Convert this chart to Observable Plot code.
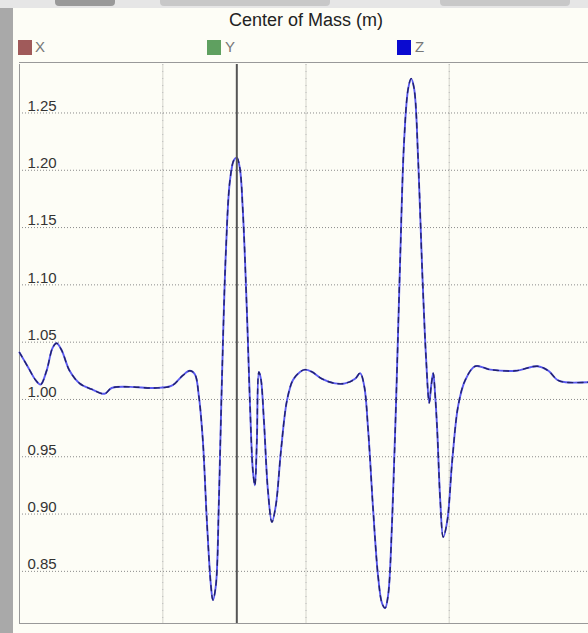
<!DOCTYPE html>
<html>
<head>
<meta charset="utf-8">
<script src="https://cdn.jsdelivr.net/npm/d3@7"></script>
<script src="https://cdn.jsdelivr.net/npm/@observablehq/plot@0.6"></script>
<style>
  html, body { margin: 0; padding: 0; width: 588px; height: 633px; overflow: hidden; background: #fdfdf6; font-family: "Liberation Sans", Arial, sans-serif; position: relative; }
  .abs { position: absolute; }
  #leftbar { left: 0; top: 0; width: 13px; height: 633px; background: #a9a9a9; }
  #toolbar { left: 0; top: 0; width: 588px; height: 8px; background: #e6e6e6; }
  .btn { top: 0; height: 6px; background: #c8c8c8; border-radius: 0 0 4px 4px; }
  #title { left: 0; width: 612px; top: 10px; text-align: center; font-size: 18px; color: #222; }
  .sw { top: 40px; width: 14px; height: 15px; }
  .lab { top: 38px; font-size: 15px; color: #777; }
  #topline { left: 19px; top: 62px; width: 569px; height: 0; border-top: 1px solid #999; }
  #chart { left: 0; top: 63px; }
</style>
</head>
<body>
<div class="abs" id="leftbar"></div>
<div class="abs" id="toolbar"></div>
<div class="abs btn" style="left:55px;width:60px;background:#999"></div>
<div class="abs btn" style="left:160px;width:170px"></div>
<div class="abs btn" style="left:440px;width:130px"></div>
<div class="abs" id="title">Center of Mass (m)</div>
<div class="abs sw" style="left:18px;background:#a05a5a"></div>
<div class="abs lab" style="left:35px">X</div>
<div class="abs sw" style="left:207px;background:#5fa060"></div>
<div class="abs lab" style="left:225px">Y</div>
<div class="abs sw" style="left:397px;background:#0a0ad0"></div>
<div class="abs lab" style="left:415px">Z</div>
<div class="abs" id="topline"></div>
<div class="abs" id="chart"></div>
<script>
// time (s) and Z centre of mass (m)
const time = [0.000,0.056,0.112,0.147,0.189,0.231,0.259,0.294,0.350,0.420,0.503,0.594,0.643,0.769,0.944,1.063,1.140,1.189,1.224,1.252,1.280,1.308,1.336,1.350,1.371,1.392,1.413,1.441,1.469,1.497,1.517,1.538,1.559,1.587,1.608,1.629,1.643,1.657,1.671,1.685,1.706,1.734,1.762,1.790,1.825,1.867,1.909,1.958,1.993,2.042,2.112,2.203,2.273,2.343,2.378,2.406,2.434,2.469,2.503,2.531,2.552,2.573,2.601,2.629,2.657,2.685,2.713,2.734,2.755,2.783,2.811,2.839,2.860,2.874,2.888,2.902,2.916,2.937,2.958,2.986,3.021,3.063,3.112,3.182,3.287,3.462,3.615,3.692,3.755,3.811,3.972];
const zValues = [1.041,1.029,1.017,1.013,1.025,1.045,1.049,1.043,1.025,1.014,1.009,1.005,1.010,1.011,1.010,1.012,1.021,1.025,1.022,1.003,0.964,0.894,0.838,0.825,0.838,0.912,1.017,1.130,1.191,1.209,1.211,1.202,1.165,1.078,0.999,0.938,0.925,0.964,1.024,1.018,0.982,0.921,0.893,0.908,0.955,0.999,1.017,1.024,1.026,1.024,1.018,1.014,1.014,1.018,1.023,1.012,0.973,0.903,0.846,0.822,0.818,0.829,0.894,0.999,1.121,1.226,1.271,1.280,1.271,1.209,1.113,1.034,0.997,1.012,1.023,1.003,0.973,0.912,0.880,0.894,0.947,0.995,1.017,1.029,1.026,1.025,1.029,1.025,1.017,1.015,1.015];
const yTicks = [0.85,0.90,0.95,1.00,1.05,1.10,1.15,1.20,1.25];
const xGrid = [1,2,3];
const cursorTime = [1.517];

const data = time.map((t, i) => ({t, z: zValues[i]}));

const chart = Plot.plot({
  width: 588,
  height: 570,
  marginLeft: 19,
  marginRight: 0,
  marginTop: 1,
  marginBottom: 10,
  style: {background: "transparent", overflow: "visible"},
  x: {domain: [0, 3.972], axis: null},
  y: {domain: [0.8045, 1.2923], axis: null},
  marks: [
    Plot.ruleX(xGrid, {stroke: "#e2e2da", strokeWidth: 1.5}),
    Plot.ruleX(xGrid, {stroke: "#bbb", strokeDasharray: "1,6", strokeWidth: 1}),
    Plot.ruleY(yTicks, {stroke: "#8a8a8a", strokeDasharray: "1,2", strokeWidth: 1}),
    Plot.text(yTicks, {x: 0, y: d => d, text: d => d.toFixed(2), textAnchor: "start", dx: 8, dy: -7, fontSize: 15, fill: "#333", fontFamily: "Liberation Sans, Arial, sans-serif"}),
    Plot.ruleX([0], {stroke: "#999"}),
    Plot.ruleY([0.8045], {stroke: "#999"}),
    Plot.line(data, {x: "t", y: "z", curve: "catmull-rom", stroke: "#5a5af0", strokeWidth: 1.9}),
    Plot.line(data, {x: "t", y: "z", curve: "catmull-rom", stroke: "#22226a", strokeWidth: 1.4, strokeDasharray: "5,5"}),
    Plot.ruleX(cursorTime, {stroke: "#555", strokeWidth: 2})
  ]
});
document.getElementById("chart").appendChild(chart);
</script>
</body>
</html>
